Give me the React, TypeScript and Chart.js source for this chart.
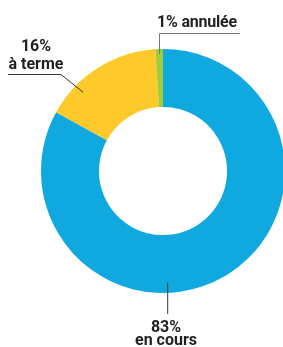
import React, { useEffect, useRef } from "react";
import { Chart, registerables } from "chart.js";

Chart.register(...registerables);

const categories = ["en cours", "à terme", "annulée"];
const values = [83, 16, 1];
const colors = ["#10a9df", "#fec92b", "#a0cb3b"];

const W = 283;
const H = 347;

// Leader lines: start inside the slice, given by angle (deg clockwise from 12 o'clock) and radius fraction
const leaders = [
  { angle: 177.6, rFrac: 0.915, path: [[167.7, 314]], color: "#333" },
  { angle: -45.4, rFrac: 0.92, path: [[61, 74.5], [8, 74.5]], color: "#333" },
  { angle: null as number | null, rFrac: 0.96, path: [[159.5, 33.5], [240, 33.5]], color: "#777" },
];

const leaderPlugin = {
  id: "leaders",
  afterDraw(chart: any) {
    const meta = chart.getDatasetMeta(0);
    const ctx = chart.ctx;
    ctx.save();
    ctx.lineWidth = 1;
    leaders.forEach((l, i) => {
      const arc = meta.data[i] as any;
      const { x, y, outerRadius, startAngle, endAngle } = arc.getProps(
        ["x", "y", "outerRadius", "startAngle", "endAngle"],
        true
      );
      const a =
        l.angle === null ? (startAngle + endAngle) / 2 : ((l.angle - 90) * Math.PI) / 180;
      const r = outerRadius * l.rFrac;
      let sx = x + r * Math.cos(a);
      const sy = y + r * Math.sin(a);
      ctx.strokeStyle = l.color;
      ctx.beginPath();
      if (i === 0) sx = l.path[0][0];
      if (i === 2) sx = l.path[0][0];
      ctx.moveTo(sx, sy);
      l.path.forEach((p) => ctx.lineTo(p[0], p[1]));
      ctx.stroke();
    });
    ctx.restore();
  },
};

const textStyle: React.CSSProperties = {
  position: "absolute",
  fontFamily: "Roboto, sans-serif",
  fontWeight: 700,
  fontSize: 16,
  color: "#231f20",
  whiteSpace: "nowrap",
};

export default function App() {
  const ref = useRef<HTMLCanvasElement>(null);
  useEffect(() => {
    if (!ref.current) return;
    const chart = new Chart(ref.current, {
      type: "doughnut",
      data: {
        labels: categories,
        datasets: [
          {
            data: values,
            backgroundColor: colors,
            borderWidth: 0,
          },
        ],
      },
      options: {
        responsive: false,
        animation: false,
        cutout: "52.5%",
        layout: { padding: { top: 49, bottom: 54, left: 41, right: 41 } },
        plugins: { legend: { display: false }, tooltip: { enabled: false } },
      },
      plugins: [leaderPlugin],
    });
    return () => chart.destroy();
  }, []);

  return (
    <div
      style={{
        position: "absolute",
        left: 0,
        top: 0,
        width: W,
        height: H,
        overflow: "hidden",
        background: "#fff",
      }}
    >
      <canvas
        ref={ref}
        width={326}
        height={H}
        style={{ position: "absolute", left: 0, top: 0, width: 326, height: H }}
      />
      <div style={{ ...textStyle, left: 157, top: 14, lineHeight: "16px", letterSpacing: "-0.2px" }}>
        {values[2]}% {categories[2]}
      </div>
      <div
        style={{
          ...textStyle,
          left: 0,
          width: 72,
          top: 36.5,
          textAlign: "center",
          lineHeight: "18px",
        }}
      >
        {values[1]}%
        <br />
        {categories[1]}
      </div>
      <div
        style={{
          ...textStyle,
          left: 116,
          width: 100,
          top: 319.5,
          textAlign: "center",
          lineHeight: "13px",
        }}
      >
        {values[0]}%
        <br />
        {categories[0]}
      </div>
    </div>
  );
}
